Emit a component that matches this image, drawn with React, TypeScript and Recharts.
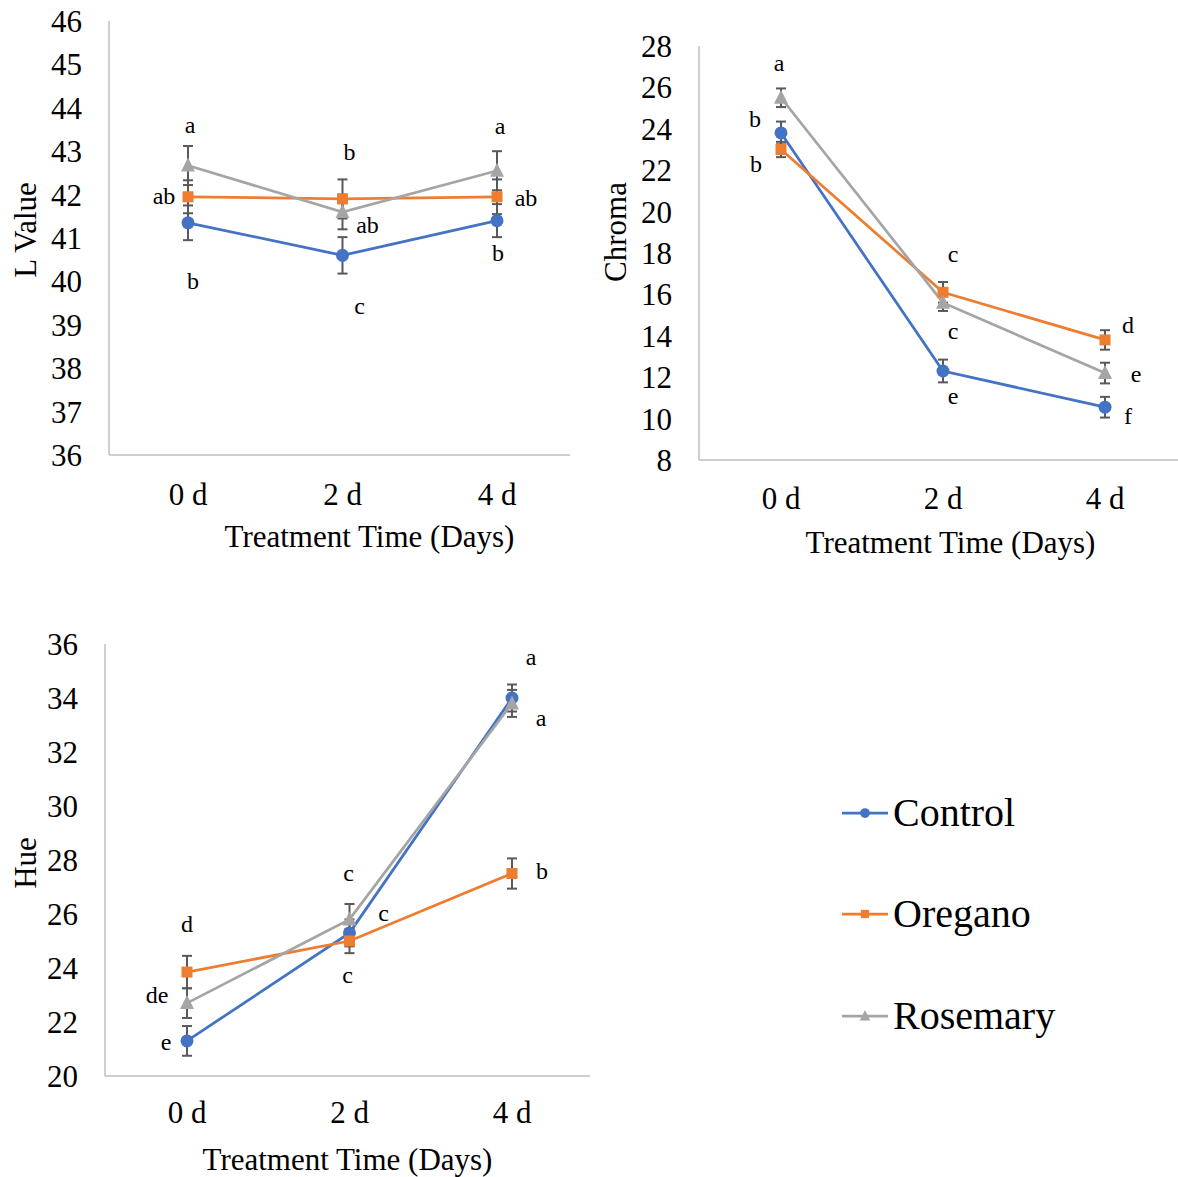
import React from "react";
import { LineChart, Line, XAxis, YAxis, ErrorBar, LabelList, Label, Legend } from "recharts";

const FONT = "'Liberation Serif', 'Times New Roman', serif";

const days = ["0 d", "2 d", "4 d"];

// L value panel
const lTicks = [36, 37, 38, 39, 40, 41, 42, 43, 44, 45, 46];
const lControl = [41.35, 40.6, 41.4];
const lOregano = [41.95, 41.9, 41.95];
const lRosemary = [42.67, 41.6, 42.55];
const lControlErr = [0.4, 0.42, 0.38];
const lOreganoErr = [0.38, 0.45, 0.4];
const lRosemaryErr = [0.45, 0.4, 0.45];
const lControlLetters = ["b", "c", "b"];
const lOreganoLetters = ["ab", "b", "ab"];
const lRosemaryLetters = ["a", "ab", "a"];

// Chroma panel
const chromaTicks = [8, 10, 12, 14, 16, 18, 20, 22, 24, 26, 28];
const chromaControl = [23.8, 12.3, 10.55];
const chromaOregano = [23.0, 16.1, 13.8];
const chromaRosemary = [25.5, 15.6, 12.2];
const chromaControlErr = [0.55, 0.55, 0.5];
const chromaOreganoErr = [0.37, 0.5, 0.47];
const chromaRosemaryErr = [0.45, 0.4, 0.5];
const chromaControlLetters = ["b", "e", "f"];
const chromaOreganoLetters = ["b", "c", "d"];
const chromaRosemaryLetters = ["a", "c", "e"];

// Hue panel
const hueTicks = [20, 22, 24, 26, 28, 30, 32, 34, 36];
const hueControl = [21.3, 25.3, 34.0];
const hueOregano = [23.85, 25.0, 27.5];
const hueRosemary = [22.7, 25.8, 33.8];
const hueControlErr = [0.55, 0.5, 0.5];
const hueOreganoErr = [0.6, 0.45, 0.56];
const hueRosemaryErr = [0.55, 0.57, 0.5];
const hueControlLetters = ["e", "c", "a"];
const hueOreganoLetters = ["d", "c", "b"];
const hueRosemaryLetters = ["de", "c", "a"];

const series = [
  { key: "control", name: "Control", color: "#4472C4", shape: "circle" },
  { key: "oregano", name: "Oregano", color: "#ED7D31", shape: "square" },
  { key: "rosemary", name: "Rosemary", color: "#A5A5A5", shape: "triangle" },
];

// letter label offsets (dx, dy) from each point
const lOffsets: Record<string, number[][]> = {
  control: [[5, 59], [17, 52], [1, 33]],
  oregano: [[-24, 0], [7, -46], [29, 2]],
  rosemary: [[2, -40], [25, 14], [3, -44]],
};
const chromaOffsets: Record<string, number[][]> = {
  control: [[-26, -13], [10, 26], [23, 10]],
  oregano: [[-25, 15], [10, -37], [23, -14]],
  rosemary: [[-2, -34], [10, 29], [31, 2]],
};
const hueOffsets: Record<string, number[][]> = {
  control: [[-21, 2], [34, -19], [19, -40]],
  oregano: [[0, -47], [-2, 35], [30, -2]],
  rosemary: [[-30, -7], [-1, -45], [29, 16]],
};

function buildData(
  control: number[], oregano: number[], rosemary: number[],
  cErr: number[], oErr: number[], rErr: number[],
  cL: string[], oL: string[], rL: string[]
) {
  return days.map((d, i) => ({
    day: d,
    control: control[i],
    oregano: oregano[i],
    rosemary: rosemary[i],
    controlErr: cErr[i],
    oreganoErr: oErr[i],
    rosemaryErr: rErr[i],
    controlLetter: cL[i],
    oreganoLetter: oL[i],
    rosemaryLetter: rL[i],
  }));
}

const lData = buildData(lControl, lOregano, lRosemary, lControlErr, lOreganoErr, lRosemaryErr,
  lControlLetters, lOreganoLetters, lRosemaryLetters);
const chromaData = buildData(chromaControl, chromaOregano, chromaRosemary, chromaControlErr,
  chromaOreganoErr, chromaRosemaryErr, chromaControlLetters, chromaOreganoLetters, chromaRosemaryLetters);
const hueData = buildData(hueControl, hueOregano, hueRosemary, hueControlErr, hueOreganoErr,
  hueRosemaryErr, hueControlLetters, hueOreganoLetters, hueRosemaryLetters);

function marker(shape: string, cx: number, cy: number, color: string, s = 1, key?: string) {
  if (shape === "circle") return <circle key={key} cx={cx} cy={cy} r={6.5 * s} fill={color} />;
  if (shape === "square")
    return <rect key={key} x={cx - 5.5 * s} y={cy - 5.5 * s} width={11 * s} height={11 * s} fill={color} />;
  return (
    <polygon
      key={key}
      points={`${cx},${cy - 8 * s} ${cx + 7 * s},${cy + 6 * s} ${cx - 7 * s},${cy + 6 * s}`}
      fill={color}
    />
  );
}

// tick renderers so the serif font is always applied
const YTick = (tp: any) => (
  <text x={tp.x} y={tp.y} dy="0.355em" textAnchor="end" fontSize={31} fontFamily={FONT} fill="#000">
    {tp.payload.value}
  </text>
);
const XTick = (tp: any) => (
  <text x={tp.x} y={tp.y} dy="0.71em" textAnchor="middle" fontSize={31} fontFamily={FONT} fill="#000">
    {tp.payload.value}
  </text>
);

type PanelProps = {
  data: any[];
  width: number;
  height: number;
  margin: { top: number; right: number; left: number; bottom: number };
  yWidth: number;
  xHeight: number;
  ticks: number[];
  padding: { left: number; right: number };
  yTitle: string;
  yTitleDy: number;
  xTitleDx: number;
  xTitleBase: number;
  xTickMargin: number;
  offsets: Record<string, number[][]>;
  legend?: boolean;
};

function Panel(p: PanelProps) {
  return (
    <LineChart width={p.width} height={p.height} data={p.data} margin={p.margin}>
      <XAxis
        dataKey="day"
        height={p.xHeight}
        padding={p.padding}
        tick={XTick}
        tickLine={false}
        tickSize={0}
        tickMargin={p.xTickMargin}
        axisLine={{ stroke: "#BFBFBF", strokeWidth: 1.5 }}
      >
        <Label
          content={(lp: any) => {
            const vb = lp.viewBox;
            if (!vb) return null;
            return (
              <text x={vb.x + vb.width / 2 + p.xTitleDx} y={vb.y + p.xTitleBase} textAnchor="middle"
                fontSize={31} fontFamily={FONT} fill="#000">
                Treatment Time (Days)
              </text>
            );
          }}
        />
      </XAxis>
      <YAxis
        width={p.yWidth}
        domain={[p.ticks[0], p.ticks[p.ticks.length - 1]]}
        ticks={p.ticks}
        interval={0}
        tick={YTick}
        tickLine={false}
        tickSize={0}
        tickMargin={27}
        axisLine={{ stroke: "#BFBFBF", strokeWidth: 1.5 }}
      >
        <Label
          content={(lp: any) => {
            const vb = lp.viewBox;
            if (!vb) return null;
            const cx = vb.x + 25;
            const cy = vb.y + vb.height / 2 + p.yTitleDy;
            return (
              <text x={cx} y={cy} transform={`rotate(-90 ${cx} ${cy})`} textAnchor="middle"
                dominantBaseline="central" fontSize={31} fontFamily={FONT} fill="#000">
                {p.yTitle}
              </text>
            );
          }}
        />
      </YAxis>
      {series.map((s) => (
        <Line
          key={s.key}
          dataKey={s.key}
          name={s.name}
          stroke={s.color}
          strokeWidth={2.75}
          isAnimationActive={false}
          activeDot={false}
          dot={(dp: any) => marker(s.shape, dp.cx, dp.cy, s.color, 1, `${s.key}-${dp.index}`)}
        >
          <ErrorBar dataKey={`${s.key}Err`} direction="y" width={5} stroke="#595959" strokeWidth={2} />
          <LabelList
            dataKey={`${s.key}Letter`}
            content={(lp: any) => {
              const off = p.offsets[s.key][lp.index] || [0, 0];
              return (
                <text x={lp.x + off[0]} y={lp.y + off[1] + 7} textAnchor="middle" fontSize={24}
                  fontFamily={FONT} fill="#000">
                  {lp.value}
                </text>
              );
            }}
          />
        </Line>
      ))}
      {p.legend && (
        <Legend
          layout="vertical"
          align="center"
          verticalAlign="middle"
          wrapperStyle={{ left: 842, top: 162, width: "auto", height: "auto" }}
          content={() => (
            <div style={{ fontFamily: FONT, fontSize: 40, color: "#000" }}>
              {series.map((s) => (
                <div key={s.key} style={{ display: "flex", alignItems: "center", height: 101.5 }}>
                  <svg width={46} height={20}>
                    <line x1={0} y1={10} x2={46} y2={10} stroke={s.color} strokeWidth={2.75} />
                    {marker(s.shape, 23, 10, s.color, 0.75)}
                  </svg>
                  <span style={{ marginLeft: 5, lineHeight: 1 }}>{s.name}</span>
                </div>
              ))}
            </div>
          )}
        />
      )}
    </LineChart>
  );
}

export default function App() {
  return (
    <div style={{ position: "absolute", left: 0, top: 0, width: 1178, height: 1177, background: "#fff", fontFamily: FONT }}>
      <div style={{ position: "absolute", left: 0, top: 0 }}>
        <Panel
          data={lData}
          width={590}
          height={560}
          margin={{ top: 21, right: 20, left: 0, bottom: 0 }}
          yWidth={109}
          xHeight={105}
          ticks={lTicks}
          padding={{ left: 79, right: 73 }}
          yTitle="L Value"
          yTitleDy={-8}
          xTitleDx={30}
          xTitleBase={92}
          xTickMargin={28}
          offsets={lOffsets}
        />
      </div>
      <div style={{ position: "absolute", left: 590, top: 0 }}>
        <Panel
          data={chromaData}
          width={588}
          height={560}
          margin={{ top: 46, right: 0, left: 0, bottom: 0 }}
          yWidth={109}
          xHeight={100}
          ticks={chromaTicks}
          padding={{ left: 82, right: 73 }}
          yTitle="Chroma"
          yTitleDy={-21}
          xTitleDx={12}
          xTitleBase={93}
          xTickMargin={27}
          offsets={chromaOffsets}
        />
      </div>
      <div style={{ position: "absolute", left: 0, top: 600 }}>
        <Panel
          data={hueData}
          width={1178}
          height={577}
          margin={{ top: 44, right: 588, left: 0, bottom: 0 }}
          yWidth={105}
          xHeight={101}
          ticks={hueTicks}
          padding={{ left: 82, right: 78 }}
          yTitle="Hue"
          yTitleDy={3}
          xTitleDx={0}
          xTitleBase={94}
          xTickMargin={25}
          offsets={hueOffsets}
          legend
        />
      </div>
    </div>
  );
}
